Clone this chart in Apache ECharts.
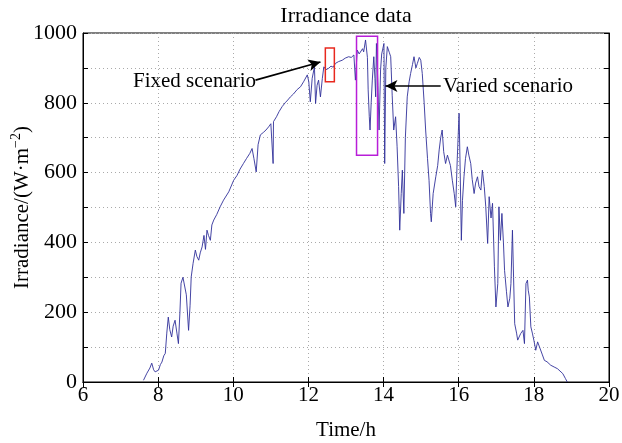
<!DOCTYPE html>
<html><head><meta charset="utf-8">
<script src="https://cdn.jsdelivr.net/npm/echarts@6/dist/echarts.min.js"></script>
<style>html,body{margin:0;padding:0;background:#fff}#c{width:622px;height:443px}</style>
</head><body><div id="c"></div>
<script>
const times = [7.61,7.70,7.78,7.83,7.88,7.92,8.01,8.06,8.10,8.15,8.19,8.23,8.27,8.31,8.36,8.40,8.45,8.50,8.54,8.58,8.61,8.66,8.70,8.75,8.81,8.85,8.88,8.93,8.99,9.03,9.08,9.12,9.17,9.22,9.26,9.30,9.34,9.39,9.43,9.48,9.56,9.65,9.74,9.79,9.88,10.01,10.10,10.18,10.27,10.35,10.44,10.50,10.55,10.61,10.66,10.72,10.80,10.87,10.94,11.00,11.06,11.07,11.15,11.22,11.30,11.38,11.45,11.52,11.60,11.70,11.79,11.88,11.97,12.01,12.05,12.10,12.16,12.19,12.23,12.27,12.32,12.37,12.41,12.47,12.54,12.60,12.66,12.72,12.80,12.90,12.98,13.07,13.14,13.21,13.25,13.30,13.35,13.39,13.44,13.47,13.52,13.57,13.59,13.62,13.64,13.67,13.70,13.74,13.77,13.79,13.81,13.85,13.88,13.92,13.95,14.01,14.03,14.06,14.10,14.15,14.19,14.23,14.27,14.32,14.36,14.40,14.43,14.47,14.50,14.54,14.58,14.63,14.68,14.72,14.77,14.81,14.86,14.90,14.95,14.99,15.03,15.08,15.12,15.17,15.21,15.25,15.27,15.32,15.39,15.44,15.48,15.52,15.56,15.60,15.65,15.70,15.74,15.78,15.83,15.88,15.92,15.96,16.01,16.04,16.07,16.10,16.14,16.18,16.23,16.27,16.32,16.36,16.41,16.45,16.50,16.54,16.59,16.63,16.68,16.72,16.77,16.81,16.86,16.90,16.95,16.99,17.04,17.07,17.11,17.15,17.19,17.22,17.27,17.31,17.36,17.39,17.43,17.46,17.49,17.54,17.57,17.62,17.65,17.71,17.75,17.79,17.83,17.85,17.88,17.92,17.96,18.00,18.05,18.10,18.15,18.22,18.28,18.35,18.45,18.54,18.63,18.68,18.77,18.84,18.89];
const irradiance = [5,25,40,54,35,29,34,50,57,75,82,140,186,150,129,160,177,140,110,200,283,300,301,250,148,220,301,340,378,360,349,370,387,420,380,435,420,406,450,464,480,502,521,526,545,578,592,610,626,640,655,669,640,602,680,708,715,722,731,740,626,746,760,775,789,800,808,817,825,838,846,862,880,860,803,870,903,798,850,865,817,870,903,895,899,905,902,913,918,922,928,932,930,937,865,951,940,937,955,946,980,930,837,760,722,800,865,932,870,817,970,850,722,894,940,970,626,900,961,945,932,820,722,760,674,560,435,540,607,483,700,817,860,884,910,932,900,913,930,922,884,800,722,640,578,483,459,540,588,620,665,700,722,660,626,650,655,620,578,540,502,636,770,600,406,520,588,640,674,650,626,580,540,570,588,560,550,607,560,502,397,531,470,512,330,215,282,502,406,483,400,320,260,215,240,282,435,300,167,140,120,115,139,148,110,282,292,263,244,158,140,120,91,115,110,80,62,58,48,43,38,38,24,10,0];
const xTicks = [6,8,10,12,14,16,18,20];
const yTicks = [0,200,400,600,800,1000];
const titleText = 'Irradiance data';
const xName = 'Time/h';
const yNameMain = 'Irradiance/(W\u00b7m';
const yNameSup = '\u22122';
const fixedLabel = 'Fixed scenario';
const variedLabel = 'Varied scenario';
const fixedBox = [[12.45,957],[12.69,860]];
const variedBox = [[13.28,991],[13.84,650]];
const fixedArrow = [[10.59,865],[12.32,917]];
const variedArrow = [[15.52,848],[14.05,848]];

const data = times.map((t,i)=>[t, irradiance[i]]);
const F = 'Liberation Serif, Times New Roman, serif';
const chart = echarts.init(document.getElementById('c'), null, {renderer:'canvas'});
const gridLine = {show:true, lineStyle:{color:'#aaaaaa', type:[1,3], width:1}};
chart.setOption({
  animation:false,
  backgroundColor:'#fff',
  grid:{left:83, right:13, top:33, bottom:61, containLabel:false, outerBoundsMode:'none', show:true, borderColor:'#000', borderWidth:1},
  xAxis:[{type:'value', min:6, max:20, interval:2, position:'bottom',
    axisLine:{show:true, lineStyle:{color:'#000'}},
    axisTick:{show:true, inside:true, length:5, lineStyle:{color:'#000'}},
    axisLabel:{color:'#000', fontFamily:F, fontSize:21, margin:3, formatter:v=>xTicks.includes(v)?String(v):''},
    splitLine:gridLine, nameMoveOverlap:false,
    name:xName, nameLocation:'middle', nameGap:38, nameTextStyle:{color:'#000', fontFamily:F, fontSize:21}},
   {type:'value', min:6, max:20, interval:2, position:'top',
    axisLine:{show:true, lineStyle:{color:'#000'}},
    axisTick:{show:true, inside:true, length:5, lineStyle:{color:'#000'}},
    axisLabel:{show:false}, splitLine:{show:false}}],
  yAxis:[{type:'value', min:0, max:1000, interval:100, position:'left',
    axisLine:{show:true, lineStyle:{color:'#000'}},
    axisTick:{show:true, inside:true, length:5, lineStyle:{color:'#000'}},
    axisLabel:{color:'#000', fontFamily:F, fontSize:22, margin:6, formatter:v=>yTicks.includes(v)?String(v):''},
    splitLine:gridLine, nameMoveOverlap:false,
    name:'{a|'+yNameMain+'}{s|'+yNameSup+'}{a|)}', nameLocation:'middle', nameGap:50,
    nameTextStyle:{color:'#000', fontFamily:F, fontSize:21,
      rich:{a:{fontFamily:F, fontSize:21, color:'#000', lineHeight:24, verticalAlign:'bottom'},
            s:{fontFamily:F, fontSize:14, color:'#000', lineHeight:24, verticalAlign:'top'}}}},
   {type:'value', min:0, max:1000, interval:100, position:'right',
    axisLine:{show:true, lineStyle:{color:'#000'}},
    axisTick:{show:true, inside:true, length:5, lineStyle:{color:'#000'}},
    axisLabel:{show:false}, splitLine:{show:false}}],
  graphic:[
    {type:'text', x:346, y:16, style:{text:titleText, font:'22px '+F, fill:'#000', textAlign:'center', textVerticalAlign:'middle'}},
    {type:'text', x:133, y:81, style:{text:fixedLabel, font:'21px '+F, fill:'#000', textAlign:'left', textVerticalAlign:'middle'}},
    {type:'text', x:443, y:86, style:{text:variedLabel, font:'21px '+F, fill:'#000', textAlign:'left', textVerticalAlign:'middle'}}
  ],
  series:[{
    type:'line', data:data, showSymbol:false, symbol:'none',
    lineStyle:{color:'#30309a', width:0.9}, z:3,
    markArea:{silent:true, z:4, data:[
      [{coord:fixedBox[0], itemStyle:{color:'rgba(0,0,0,0)', borderColor:'#e8281e', borderWidth:1.5}},{coord:fixedBox[1]}],
      [{coord:variedBox[0], itemStyle:{color:'rgba(0,0,0,0)', borderColor:'#b81ed8', borderWidth:1.5}},{coord:variedBox[1]}]
    ]},
    markLine:{silent:true, symbol:['none','arrow'], symbolSize:[9,12], label:{show:false},
      lineStyle:{color:'#000', width:1.6, type:'solid'},
      data:[
        [{coord:fixedArrow[0]},{coord:fixedArrow[1]}],
        [{coord:variedArrow[0]},{coord:variedArrow[1]}]
      ]}
  }]
});
</script></body></html>
